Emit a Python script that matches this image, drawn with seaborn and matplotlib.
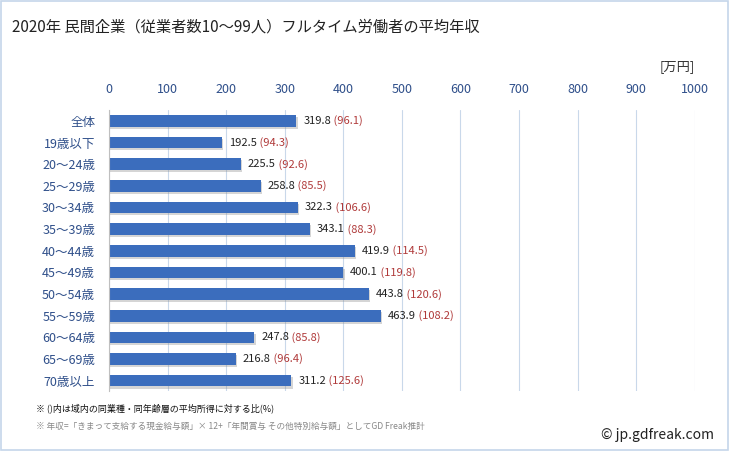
import matplotlib
matplotlib.use("Agg")
import matplotlib.pyplot as plt
import matplotlib.patheffects as pe
import seaborn as sns
import pandas as pd
from matplotlib.patches import Rectangle

categories = ['全体', '19歳以下', '20～24歳', '25～29歳', '30～34歳', '35～39歳', '40～44歳',
              '45～49歳', '50～54歳', '55～59歳', '60～64歳', '65～69歳', '70歳以上']
income = [319.8, 192.5, 225.5, 258.8, 322.3, 343.1, 419.9, 400.1, 443.8, 463.9, 247.8, 216.8, 311.2]
ratio = [96.1, 94.3, 92.6, 85.5, 106.6, 88.3, 114.5, 119.8, 120.6, 108.2, 85.8, 96.4, 125.6]
x_ticks = [0, 100, 200, 300, 400, 500, 600, 700, 800, 900, 1000]

sns.set_style("white")
plt.rcParams['font.family'] = ['Noto Sans CJK JP', 'DejaVu Sans']

df = pd.DataFrame({'age': categories, 'income': income})

fig = plt.figure(figsize=(7.29, 4.51), dpi=100)
ax = fig.add_axes([0.1495, 0.132, 0.8035, 0.624])

sns.barplot(data=df, x='income', y='age', orient='h', color='#3b6dbd',
            saturation=1, width=0.54, linewidth=0, ax=ax)
for bar in ax.patches:
    bar.set_path_effects([pe.SimplePatchShadow(offset=(1, -1.5), shadow_rgbFace='#888888', alpha=0.35),
                          pe.Normal()])

ax.set_xlim(0, 1000)
ax.set_xticks(x_ticks)
ax.xaxis.tick_top()
ax.tick_params(axis='x', length=0, pad=10, labelsize=9, labelcolor='#2f4f8a')
ax.tick_params(axis='y', length=0, pad=10, labelsize=9, labelcolor='#2f4f8a')
ax.set_xlabel('')
ax.set_ylabel('')
ax.grid(axis='x', color='#c9d8ea', linewidth=0.8)
ax.set_axisbelow(True)
for s in ['top', 'right', 'bottom']:
    ax.spines[s].set_visible(False)
ax.spines['left'].set_color('#bfbfbf')
ax.spines['left'].set_linewidth(0.8)

# value labels: amount in black, ratio in red
for i, (v, r) in enumerate(zip(income, ratio)):
    t1 = ax.annotate(f'{v:.1f}', xy=(v, i), xytext=(5, 0), textcoords='offset points',
                     va='center', ha='left', fontsize=8, color='#222222')
    ax.annotate(f' ({r:.1f})', xy=(1, 0.5), xycoords=t1, va='center', ha='left',
                fontsize=8, color='#b03a3a')

fig.text(0.016, 0.94, '2020年 民間企業（従業者数10～99人）フルタイム労働者の平均年収',
         fontsize=11, color='#222222', va='center')
fig.text(0.953, 0.853, '[万円]', fontsize=9.5, ha='right', va='center', color='#333333')
fig.text(0.05, 0.094, '※ ()内は域内の同業種・同年齢層の平均所得に対する比(%)',
         fontsize=6.5, color='#111111', va='center')
fig.text(0.05, 0.055, '※ 年収=「きまって支給する現金給与額」× 12+「年間賞与 その他特別給与額」としてGD Freak推計',
         fontsize=6.2, color='#888888', va='center')
fig.text(0.98, 0.035, '© jp.gdfreak.com', fontsize=10, ha='right', va='center', color='#222222')

fig.patches.append(Rectangle((0.002, 0.003), 0.996, 0.994, transform=fig.transFigure,
                             fill=False, edgecolor='#c5d6ea', linewidth=1.2))

fig.savefig('out.png', dpi=100)
